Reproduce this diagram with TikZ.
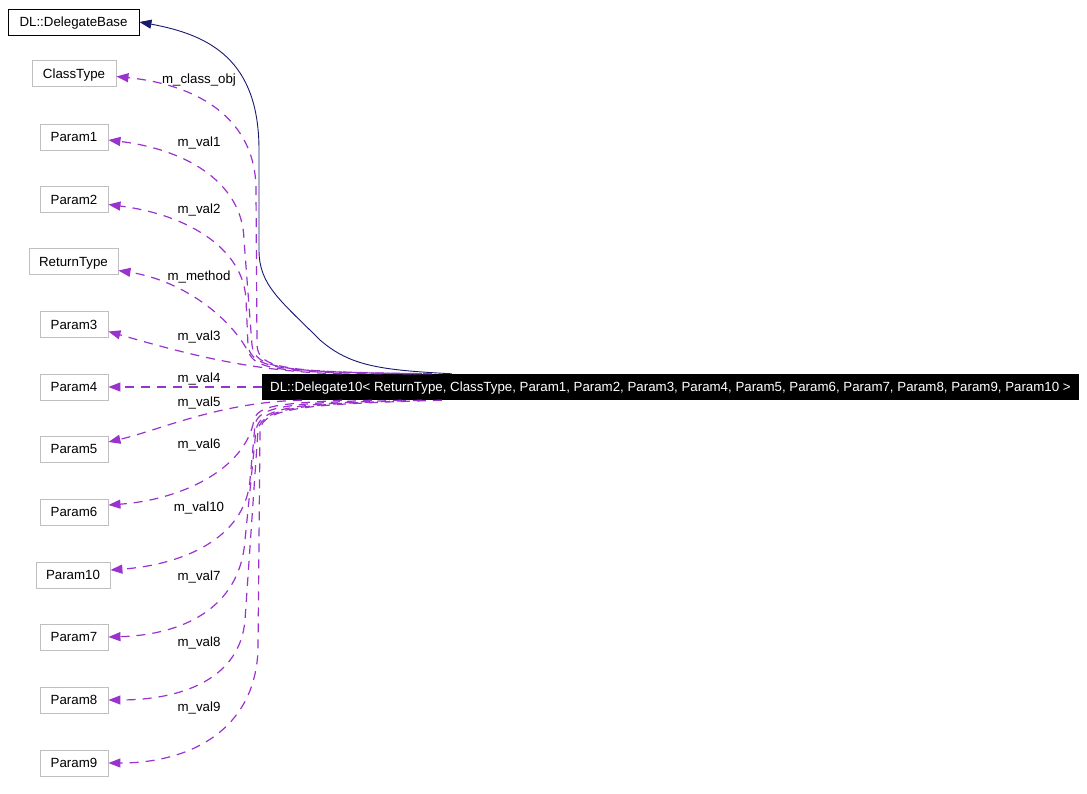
\documentclass[tikz,border=0pt]{standalone}
\usepackage{fontspec}
\setmainfont{Liberation Sans}
\usetikzlibrary{arrows.meta,calc}
\definecolor{edgepurple}{HTML}{9A32CD}
\definecolor{basenavy}{HTML}{191970}
\definecolor{boxgray}{HTML}{BFBFBF}

\begin{document}
\begin{tikzpicture}[x=1pt, y=-1pt, font=\fontsize{13.3}{16}\selectfont,
  cls/.style={draw=boxgray, line width=0.9pt, inner sep=0pt, minimum height=26pt, text height=9.5pt, text depth=0pt},
  member/.style={draw=edgepurple, line width=1.2pt, dash pattern=on 9pt off 7pt, -{Triangle[length=12pt,width=9pt,fill=edgepurple]}},
  inherit/.style={draw=basenavy, line width=0.9pt, -{Triangle[length=12pt,width=9pt,fill=basenavy]}},
  lbl/.style={inner sep=0pt}]
  \useasboundingbox (0,0) rectangle (1087,794);
  % classes
  \node[cls, draw=black, minimum width=131pt] (base) at (73.5,22) {DL::DelegateBase};
  \node[cls, minimum width=84pt] (classtype) at (74,73.5) {ClassType};
  \node[cls, minimum width=68pt] (p1) at (74,137) {Param1};
  \node[cls, minimum width=68pt] (p2) at (74,199.5) {Param2};
  \node[cls, minimum width=89pt] (rt) at (73.5,261.5) {ReturnType};
  \node[cls, minimum width=68pt] (p3) at (74,324.5) {Param3};
  \node[cls, minimum width=68pt] (p4) at (74,387) {Param4};
  \node[cls, minimum width=68pt] (p5) at (74,449) {Param5};
  \node[cls, minimum width=68pt] (p6) at (74,512) {Param6};
  \node[cls, minimum width=74pt] (p10) at (73,575) {Param10};
  \node[cls, minimum width=68pt] (p7) at (74,637) {Param7};
  \node[cls, minimum width=68pt] (p8) at (74,700) {Param8};
  \node[cls, minimum width=68pt] (p9) at (74,763) {Param9};
  \node[fill=black, text=white, inner sep=0pt, minimum width=817pt, minimum height=26pt, text height=9.5pt, text depth=0pt] (main) at (670.5,387)
    {DL::Delegate10< ReturnType, ClassType, Param1, Param2, Param3, Param4, Param5, Param6, Param7, Param8, Param9, Param10 >};
  % base class
  \draw[inherit] ($(main.north west)+(190,0)$) .. controls (380,370) and (350,366) .. (320,340)
    .. controls (280,300) and (259,285) .. (259,250) -- (259,150) .. controls (259,60) and (210,35) .. (base.east);
  % members above
  \draw[member] ($(main.north west)+(170,0)$) .. controls (290,372) and (258,370) .. (257,345) -- (256,190)
    .. controls (256,120) and (200,85) .. ($(classtype.east)+(0,3)$);
  \draw[member] ($(main.north west)+(160,0)$) .. controls (290,372) and (254,370) .. (252,345) -- (244,240)
    .. controls (243,185) and (190,150) .. ($(p1.east)+(0,3)$);
  \draw[member] ($(main.north west)+(150,0)$) .. controls (290,372) and (250,370) .. (248,345) -- (246,300)
    .. controls (244,250) and (190,215) .. ($(p2.east)+(0,5)$);
  \draw[member] ($(main.north west)+(120,0)$) .. controls (290,372) and (258,370) .. (250,355)
    .. controls (230,315) and (180,280) .. ($(rt.east)+(0,9)$);
  \draw[member] ($(main.north west)+(80,0)$) .. controls (250,372) and (180,352) .. ($(p3.east)+(0,7)$);
  \draw[member] (main.west) -- (p4.east);
  % members below
  \draw[member] ($(main.south west)+(40,0)$) .. controls (220,402) and (160,430) .. ($(p5.east)+(0,-7)$);
  \draw[member] ($(main.south west)+(80,0)$) .. controls (280,404) and (258,405) .. (254,420)
    .. controls (245,470) and (180,500) .. ($(p6.east)+(0,-7)$);
  \draw[member] ($(main.south west)+(110,0)$) .. controls (290,404) and (258,406) .. (255,425) -- (250,480)
    .. controls (245,540) and (180,565) .. ($(p10.east)+(0,-5)$);
  \draw[member] ($(main.south west)+(140,0)$) .. controls (300,404) and (260,406) .. (256,430) -- (245,540)
    .. controls (240,610) and (180,635) .. (p7.east);
  \draw[member] ($(main.south west)+(160,0)$) .. controls (310,404) and (262,406) .. (258,430) -- (245,620)
    .. controls (240,680) and (180,700) .. (p8.east);
  \draw[member] ($(main.south west)+(180,0)$) .. controls (320,404) and (262,406) .. (260,430) -- (258,650)
    .. controls (255,730) and (190,763) .. (p9.east);
  % labels
  \node[lbl] (lclass) at (199,80) {m\_class\_obj};
  \node[lbl] (lv1) at (199,143) {m\_val1};
  \node[lbl] (lv2) at (199,210) {m\_val2};
  \node[lbl] (lmethod) at (199,277) {m\_method};
  \node[lbl] (lv3) at (199,337) {m\_val3};
  \node[lbl] (lv4) at (199,379) {m\_val4};
  \node[lbl] (lv5) at (199,403) {m\_val5};
  \node[lbl] (lv6) at (199,445) {m\_val6};
  \node[lbl] (lv10) at (199,508) {m\_val10};
  \node[lbl] (lv7) at (199,577) {m\_val7};
  \node[lbl] (lv8) at (199,643) {m\_val8};
  \node[lbl] (lv9) at (199,708) {m\_val9};
\end{tikzpicture}
\end{document}
